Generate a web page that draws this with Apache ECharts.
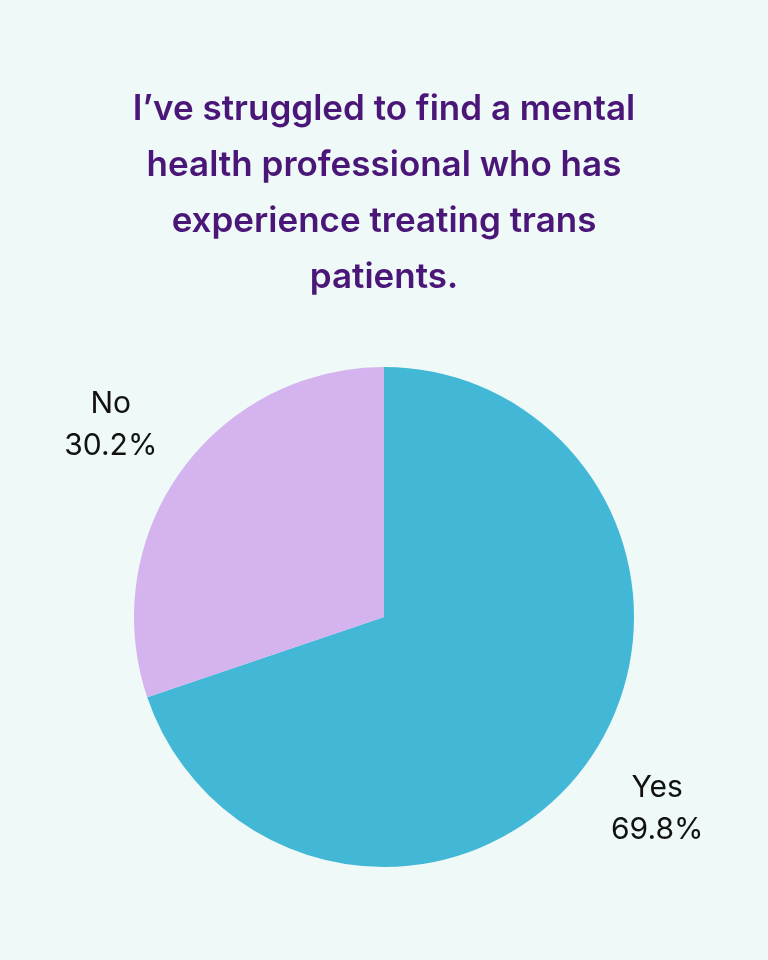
<!DOCTYPE html>
<html><head><meta charset="utf-8">
<script src="https://cdn.jsdelivr.net/npm/echarts@6/dist/echarts.min.js"></script>
<style>html,body{margin:0;padding:0;background:#EEF9F8}#c{width:768px;height:960px}</style>
</head><body><div id="c"></div>
<script>
const titleText = "I’ve struggled to find a mental\nhealth professional who has\nexperience treating trans\npatients.";
const categories = ["Yes", "No"];
const values = [69.8, 30.2];
const colors = ["#42B8D6", "#D5B3EF"];
const chart = echarts.init(document.getElementById('c'));
chart.setOption({
  backgroundColor: '#EEF9F8',
  title: {
    text: titleText, left: 'center', top: 76,
    textStyle: {color: '#4A1677', fontSize: 35, fontWeight: 600, lineHeight: 56, fontFamily: 'Inter, sans-serif'}
  },
  series: [{
    type: 'pie', center: [384, 617], radius: 250, startAngle: 90, clockwise: true,
    silent: true,
    data: categories.map((c, i) => ({name: c, value: values[i], itemStyle: {color: colors[i]}})),
    label: {
      position: 'outside', formatter: p => p.name + '\n' + p.value.toFixed(1) + '%',
      color: '#111', fontSize: 30, lineHeight: 42, align: 'center', fontFamily: 'Inter, sans-serif'
    },
    labelLine: {show: false, length: 80, length2: 0},
    labelLayout: p => ({align: 'center'})
  }]
});
</script></body></html>
